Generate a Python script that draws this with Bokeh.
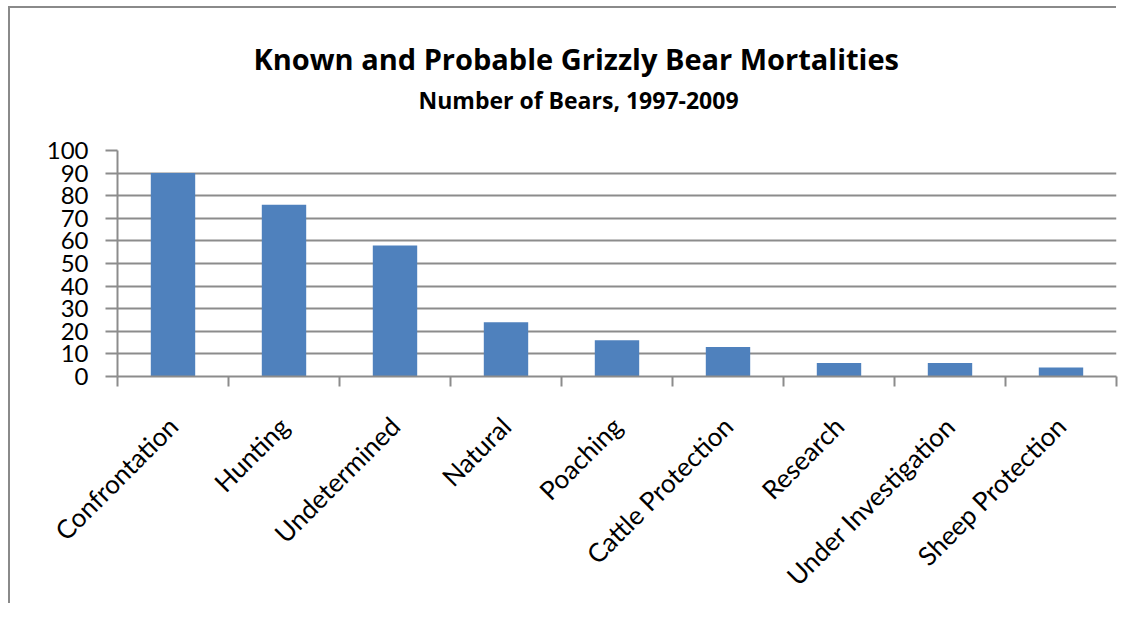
from bokeh.plotting import figure
from bokeh.models import Range1d, FixedTicker, Title, ColumnDataSource
from bokeh.embed import file_html
from bokeh.resources import INLINE
import math

categories = ["Confrontation", "Hunting", "Undetermined", "Natural", "Poaching",
              "Cattle Protection", "Research", "Under Investigation", "Sheep Protection"]
values = [90, 76, 58, 24, 16, 13, 6, 6, 4]
y_ticks = [0, 10, 20, 30, 40, 50, 60, 70, 80, 90, 100]
title_text = "Known and Probable Grizzly Bear Mortalities"
subtitle_text = "Number of Bears, 1997-2009"

FONT = "Lato"
TFONT = "Open Sans"
GRID = "#8c8c8c"
BAR = "#4F81BD"

n = len(categories)
centers = [i + 0.5 for i in range(n)]
source = ColumnDataSource(dict(x=centers, top=values, cat=categories))

p = figure(width=1108, height=597, output_backend="svg", toolbar_location=None,
           x_range=Range1d(0, n), y_range=Range1d(0, 100),
           min_border_left=107, min_border_right=2, min_border_top=142,
           min_border_bottom=229)
p.styles = {"box-shadow": "-2px -2px 0px 0px #8a8a8a", "margin-left": "10px",
            "margin-top": "8px"}
p.outline_line_color = None
p.background_fill_color = "white"
p.border_fill_color = "white"

p.vbar(x="x", top="top", bottom=0, width=0.4, source=source,
       fill_color=BAR, line_color=None)

# y axis
p.yaxis.ticker = FixedTicker(ticks=y_ticks, minor_ticks=[])
p.yaxis.axis_line_color = GRID
p.yaxis.axis_line_width = 2
p.yaxis.major_tick_line_color = GRID
p.yaxis.major_tick_line_width = 2
p.yaxis.major_tick_out = 12
p.yaxis.major_tick_in = 0
p.yaxis.minor_tick_line_color = None
p.yaxis.major_label_standoff = 17
p.yaxis.major_label_text_font = FONT
p.yaxis.major_label_text_font_size = "24px"
p.yaxis.major_label_text_color = "black"

# x axis
p.xaxis.ticker = FixedTicker(ticks=centers, minor_ticks=list(range(n + 1)))
p.xaxis.major_label_overrides = {c: lab for c, lab in zip(centers, categories)}
p.xaxis.axis_line_color = GRID
p.xaxis.axis_line_width = 2
p.xaxis.major_tick_line_color = None
p.xaxis.major_tick_out = 0
p.xaxis.major_tick_in = 0
p.xaxis.minor_tick_line_color = GRID
p.xaxis.minor_tick_line_width = 2
p.xaxis.minor_tick_out = 10
p.xaxis.minor_tick_in = 0
p.xaxis.major_label_orientation = math.pi / 4
p.xaxis.major_label_standoff = 35
p.xaxis.major_label_text_font = FONT
p.xaxis.major_label_text_font_size = "26px"
p.xaxis.major_label_text_color = "black"

p.xgrid.grid_line_color = None
p.ygrid.ticker = FixedTicker(ticks=y_ticks)
p.ygrid.grid_line_color = GRID
p.ygrid.grid_line_width = 2

sub = Title(text=subtitle_text, align="left", offset=301, text_font=TFONT,
            text_font_size="23px", text_font_style="bold", text_color="black",
            standoff=70)
p.add_layout(sub, "above")
main = Title(text=title_text, align="left", offset=136, text_font=TFONT,
             text_font_size="29px", text_font_style="bold", text_color="black",
             standoff=-62)
p.add_layout(main, "above")

open("out.html", "w").write(file_html(p, INLINE))
